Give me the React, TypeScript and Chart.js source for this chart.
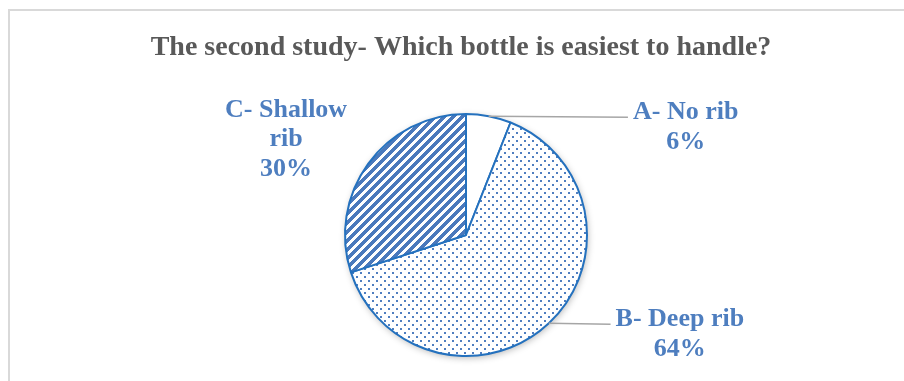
import React, { useEffect, useRef } from 'react';
import { Chart, registerables } from 'chart.js';

Chart.register(...registerables);

const chartTitle = 'The second study- Which bottle is easiest to handle?';
const categories = ['A- No rib', 'B- Deep rib', 'C- Shallow rib'];
const categoryLines = [['A- No rib'], ['B- Deep rib'], ['C- Shallow', 'rib']];
const shares = [6, 64, 30];

const FONT = '"Liberation Serif", "Times New Roman", serif';
const LABEL_COLOR = '#4E7EBF';
const BORDER_BLUE = '#2471BE';

function makeDotPattern(): CanvasPattern | string {
  const n = 8;
  const c = document.createElement('canvas');
  c.width = n;
  c.height = n;
  const g = c.getContext('2d');
  if (!g) return '#fff';
  g.fillStyle = '#ffffff';
  g.fillRect(0, 0, n, n);
  g.fillStyle = '#4F7EC0';
  g.fillRect(0, 0, 2, 2);
  g.fillRect(4, 4, 2, 2);
  return g.createPattern(c, 'repeat') || '#fff';
}

function makeStripePattern(): CanvasPattern | string {
  const n = 9;
  const c = document.createElement('canvas');
  c.width = n;
  c.height = n;
  const g = c.getContext('2d');
  if (!g) return '#fff';
  g.fillStyle = '#ffffff';
  g.fillRect(0, 0, n, n);
  g.fillStyle = '#4A79BC';
  for (let yy = 0; yy < n; yy++) {
    for (let xx = 0; xx < n; xx++) {
      if ((xx + yy) % n < 5) g.fillRect(xx, yy, 1, 1);
    }
  }
  return g.createPattern(c, 'repeat') || '#fff';
}

// label placement relative to the arc's mid-edge anchor
const labelPlacement = [
  { dx: 197, dy: 3, leader: true },
  { dx: 131, dy: 3, leader: true },
  { dx: -82, dy: -47, leader: false },
];

const titlePlugin = {
  id: 'customTitle',
  afterDraw(chart: any) {
    const ctx = chart.ctx;
    ctx.save();
    ctx.font = `bold 28px ${FONT}`;
    ctx.fillStyle = '#595959';
    ctx.textAlign = 'center';
    ctx.textBaseline = 'alphabetic';
    ctx.fillText(chartTitle, 461, 55);
    ctx.restore();
  },
};

const shadowPlugin = {
  id: 'pieShadow',
  beforeDatasetsDraw(chart: any) {
    const meta = chart.getDatasetMeta(0);
    const arc = meta.data[0];
    if (!arc) return;
    const { x, y, outerRadius } = arc.getProps(['x', 'y', 'outerRadius'], true);
    const ctx = chart.ctx;
    ctx.save();
    ctx.shadowColor = 'rgba(0,0,0,0.28)';
    ctx.shadowBlur = 7;
    ctx.shadowOffsetX = 1;
    ctx.shadowOffsetY = 2;
    ctx.beginPath();
    ctx.arc(x, y, outerRadius, 0, Math.PI * 2);
    ctx.fillStyle = '#ffffff';
    ctx.fill();
    ctx.restore();
  },
};

const labelPlugin = {
  id: 'pieLabels',
  afterDatasetsDraw(chart: any) {
    const meta = chart.getDatasetMeta(0);
    const ctx = chart.ctx;
    const data = chart.data.datasets[0].data as number[];
    const total = data.reduce((a, b) => a + b, 0);
    meta.data.forEach((arc: any, i: number) => {
      const { x, y, startAngle, endAngle, outerRadius } = arc.getProps(
        ['x', 'y', 'startAngle', 'endAngle', 'outerRadius'],
        true
      );
      const mid = (startAngle + endAngle) / 2;
      const ax = x + Math.cos(mid) * outerRadius;
      const ay = y + Math.sin(mid) * outerRadius;
      const p = labelPlacement[i];
      const lines = [...categoryLines[i], `${Math.round((data[i] / total) * 100)}%`];
      ctx.save();
      ctx.font = `bold 26px ${FONT}`;
      const w = ctx.measureText(lines[0]).width;
      const cx = ax + p.dx;
      const by = ay + p.dy;
      if (p.leader) {
        ctx.strokeStyle = '#A6A6A6';
        ctx.lineWidth = 1.5;
        ctx.beginPath();
        ctx.moveTo(ax, ay);
        ctx.lineTo(cx - w / 2 - 5, ay + 1);
        ctx.stroke();
      }
      ctx.fillStyle = LABEL_COLOR;
      ctx.textAlign = 'center';
      ctx.textBaseline = 'alphabetic';
      lines.forEach((t, k) => ctx.fillText(t, cx, by + k * 29.5));
      ctx.restore();
    });
  },
};

export default function App() {
  const ref = useRef<HTMLCanvasElement | null>(null);

  useEffect(() => {
    if (!ref.current) return;
    const chart = new Chart(ref.current, {
      type: 'pie',
      data: {
        labels: categories,
        datasets: [
          {
            data: shares,
            backgroundColor: ['#ffffff', makeDotPattern(), makeStripePattern()] as any,
            borderColor: BORDER_BLUE,
            borderWidth: 2,
          },
        ],
      },
      options: {
        responsive: false,
        animation: false,
        events: [],
        layout: { padding: { top: 113, bottom: 24, left: 228, right: 200 } },
        plugins: {
          legend: { display: false },
          tooltip: { enabled: false },
          title: { display: false },
        },
      },
      plugins: [shadowPlugin, labelPlugin, titlePlugin],
    });
    return () => chart.destroy();
  }, []);

  return (
    <div style={{ position: 'absolute', left: 0, top: 0, width: 904, height: 381, overflow: 'hidden', background: '#fff' }}>
      <div
        style={{
          position: 'absolute',
          left: 8,
          top: 9,
          width: 920,
          height: 400,
          borderTop: '2px solid #D9D9D9',
          borderLeft: '2px solid #D9D9D9',
        }}
      />
      <canvas ref={ref} width={904} height={381} style={{ position: 'absolute', left: 0, top: 0, display: 'block' }} />
    </div>
  );
}
